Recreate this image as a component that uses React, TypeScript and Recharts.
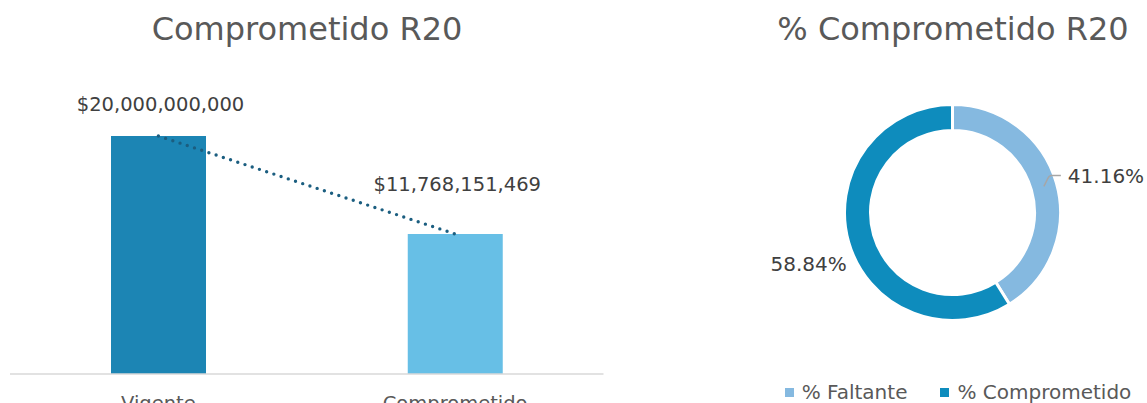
import React from "react";
import {
  ComposedChart,
  Bar,
  Line,
  XAxis,
  YAxis,
  Cell,
  LabelList,
  PieChart,
  Pie,
  Legend,
} from "recharts";

const categories = ["Vigente", "Comprometido"];
const amounts = [20000000000, 11768151469];
const barColors = ["#1c85b4", "#67bfe6"];

const shareNames = ["% Faltante", "% Comprometido"];
const shareValues = [41.16, 58.84];
const shareColors = ["#85b9e0", "#0e8cbd"];

const FONT = "'DejaVu Sans', 'Open Sans', sans-serif";

const barData = categories.map((name, i) => ({ name, value: amounts[i] }));
const pieData = shareNames.map((name, i) => ({ name, value: shareValues[i] }));

const money = (v: number) => "$" + v.toLocaleString("en-US");

// label distance above each bar top
const labelGaps = [25, 43];

function BarValueLabel(props: any) {
  const { x, y, width, value, index } = props;
  return (
    <text
      x={x + width / 2 + 2}
      y={y - labelGaps[index]}
      textAnchor="middle"
      fill="#404040"
      fontSize={19.5}
      fontFamily={FONT}
    >
      {money(value)}
    </text>
  );
}

const RAD = Math.PI / 180;

function PieLabel(props: any) {
  const { cx, cy, midAngle, innerRadius, outerRadius, index, value } = props;
  const cos = Math.cos(-midAngle * RAD);
  const sin = Math.sin(-midAngle * RAD);
  const text = value.toFixed(2) + "%";
  if (index === 0) {
    const rm = (innerRadius + outerRadius) / 2;
    const sx = cx + rm * cos;
    const sy = cy + rm * sin;
    const ex = sx + 17;
    const ey = sy - 11;
    return (
      <g>
        <path
          d={`M${sx},${sy} L${sx + 4},${ey + 3} Q${sx + 5},${ey} ${sx + 8},${ey} L${ex},${ey}`}
          stroke="#a6a6a6"
          strokeWidth={1.5}
          fill="none"
        />
        <text
          x={ex + 7}
          y={ey + 8}
          textAnchor="start"
          fill="#404040"
          fontSize={20}
          fontFamily={FONT}
        >
          {text}
        </text>
      </g>
    );
  }
  const tx = cx + (outerRadius + 2) * cos;
  const ty = cy + outerRadius * sin;
  return (
    <text
      x={tx}
      y={ty + 29}
      textAnchor="end"
      fill="#404040"
      fontSize={20}
      fontFamily={FONT}
    >
      {text}
    </text>
  );
}

function LegendContent(props: any) {
  const payload = [...(props.payload || [])].sort(
    (a: any, b: any) => shareNames.indexOf(a.value) - shareNames.indexOf(b.value)
  );
  return (
    <div
      style={{
        display: "flex",
        justifyContent: "center",
        gap: 33,
        fontFamily: FONT,
        fontSize: 20,
        lineHeight: "22px",
        color: "#595959",
      }}
    >
      {payload.map((p: any) => (
        <div key={p.value} style={{ display: "flex", alignItems: "center" }}>
          <span
            style={{
              display: "inline-block",
              width: 9,
              height: 9,
              background: p.color,
              marginRight: 8,
            }}
          />
          <span>{p.value}</span>
        </div>
      ))}
    </div>
  );
}

export default function App() {
  return (
    <div
      style={{
        position: "absolute",
        top: 0,
        left: 0,
        width: 1147,
        height: 403,
        overflow: "hidden",
        background: "#fff",
        fontFamily: FONT,
      }}
    >
      <div
        style={{
          position: "absolute",
          left: 0,
          width: 614,
          top: 10,
          textAlign: "center",
          fontSize: 32,
          lineHeight: "38px",
          color: "#595959",
        }}
      >
        Comprometido R20
      </div>
      <div
        style={{
          position: "absolute",
          left: 700,
          width: 506,
          top: 10,
          textAlign: "center",
          fontSize: 32,
          lineHeight: "38px",
          color: "#595959",
        }}
      >
        % Comprometido R20
      </div>

      <div style={{ position: "absolute", left: 0, top: 0 }}>
        <ComposedChart
          width={620}
          height={440}
          data={barData}
          margin={{ top: 76.5, right: 16.5, left: 10, bottom: 26 }}
        >
          <XAxis
            dataKey="name"
            height={40}
            axisLine={{ stroke: "#d9d9d9", strokeWidth: 1.5 }}
            tickLine={false}
            tickMargin={16}
            tick={{ fill: "#595959", fontSize: 19.5, fontFamily: FONT }}
          />
          <YAxis hide domain={[0, 25000000000]} />
          <Bar dataKey="value" barSize={95} isAnimationActive={false}>
            {barData.map((d, i) => (
              <Cell key={d.name} fill={barColors[i]} />
            ))}
            <LabelList dataKey="value" content={<BarValueLabel />} />
          </Bar>
          <Line
            type="linear"
            dataKey="value"
            stroke="#1b5e80"
            strokeWidth={3.4}
            strokeDasharray="0 7.6"
            strokeLinecap="round"
            dot={false}
            activeDot={false}
            isAnimationActive={false}
          />
        </ComposedChart>
      </div>

      <div style={{ position: "absolute", left: 700, top: 0 }}>
        <PieChart
          width={447}
          height={403}
          margin={{ top: 0, right: 0, bottom: 0, left: 0 }}
        >
          <Pie
            data={pieData}
            dataKey="value"
            nameKey="name"
            cx={252.5}
            cy={212.5}
            innerRadius={82}
            outerRadius={108}
            startAngle={90}
            endAngle={-270}
            stroke="#ffffff"
            strokeWidth={3}
            label={PieLabel}
            labelLine={false}
            isAnimationActive={false}
          >
            {pieData.map((d, i) => (
              <Cell key={d.name} fill={shareColors[i]} />
            ))}
          </Pie>
          <Legend
            content={<LegendContent />}
            verticalAlign="bottom"
            wrapperStyle={{ left: 58, width: 400, bottom: 0 }}
          />
        </PieChart>
      </div>
    </div>
  );
}
